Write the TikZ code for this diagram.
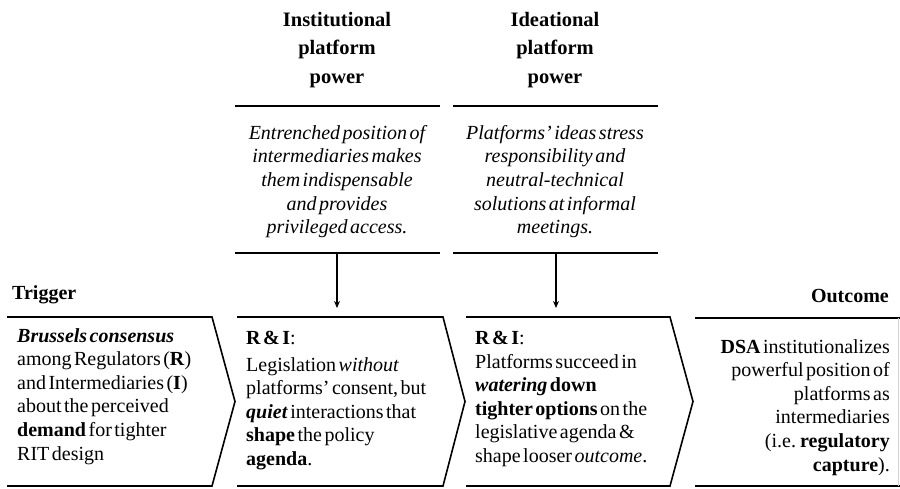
\documentclass[tikz,border=0pt]{standalone}
\usepackage{fontspec}
\setmainfont[WordSpace=0.5]{Liberation Serif}
\usetikzlibrary{arrows.meta}
\begin{document}
\begin{tikzpicture}[x=1pt,y=-1pt,
  rule/.style={line width=1.7pt},
  chev/.style={line width=1.6pt, line join=miter},
  flow/.style={line width=1.4pt,-{Stealth[length=7pt,width=6pt]}},
  head/.style={inner sep=0pt, align=center, font=\fontsize{20.5}{28.5}\selectfont\bfseries},
  desc/.style={inner sep=0pt, align=center, font=\fontsize{20}{23.6}\selectfont\itshape},
  body/.style={inner sep=0pt, font=\fontsize{20}{23.6}\selectfont},
  label/.style={inner sep=0pt, font=\fontsize{20}{24}\selectfont\bfseries}]
\useasboundingbox (0,0) rectangle (900,488);

% column headings
\node[head, anchor=north] (hinst) at (337,12) {Institutional\\platform\\power};
\node[head, anchor=north] (hidea) at (555,12) {Ideational\\platform\\power};

% rules around the mechanism descriptions
\draw[rule] (235,106) -- (440,106);
\draw[rule] (453,106) -- (658,106);
\draw[rule] (235,253) -- (440,253);
\draw[rule] (453,253) -- (658,253);

\node[desc, anchor=north] (dinst) at (337,125)
  {Entrenched position of\\intermediaries makes\\them indispensable\\and provides\\privileged access.};
\node[desc, anchor=north] (didea) at (555,125)
  {Platforms’ ideas stress\\responsibility and\\neutral-technical\\solutions at informal\\meetings.};

% side labels
\node[label, anchor=base west] (trig) at (12,299) {Trigger};
\node[label, anchor=base east] (outc) at (889,302) {Outcome};

% process chevrons
\draw[chev] (7,317) -- (212,317) -- (235,401.5) -- (212,486) -- (7,486);
\draw[chev] (237,317) -- (443,317) -- (465,401.5) -- (443,486) -- (237,486);
\draw[chev] (466,317) -- (670,317) -- (693,401.5) -- (670,486) -- (466,486);
\draw[chev] (695,318) -- (900,318);
\draw[chev] (695,486) -- (900,486);
\draw[gray!35, line width=0.8pt] (898,318) -- (898,486);

% arrows from the power mechanisms into the process
\coordinate (srcinst) at (337,253);
\coordinate (srcidea) at (556,253);
\coordinate (tgtinst) at (337,308);
\coordinate (tgtidea) at (556,308);
\draw[flow] (srcinst) -- (tgtinst);
\draw[flow] (srcidea) -- (tgtidea);

% chevron texts
\node[body, anchor=north west, align=left] (btrig) at (17,328)
  {\textbf{\textit{Brussels consensus}}\\among Regulators (\textbf{R})\\and Intermediaries (\textbf{I})\\about the perceived\\\textbf{demand} for tighter\\RIT design};
\node[body, anchor=north west, align=left] (binst) at (246,331)
  {\textbf{R \& I}:\\[3pt]Legislation \textit{without}\\platforms’ consent, but\\\textbf{\textit{quiet}} interactions that\\\textbf{shape} the policy\\\textbf{agenda}.};
\node[body, anchor=north west, align=left] (bidea) at (475,331)
  {\textbf{R \& I}:\\Platforms succeed in\\\textbf{\textit{watering} down}\\\textbf{tighter options} on the\\legislative agenda \&\\shape looser \textit{outcome}.};
\node[body, anchor=north east, align=right] (boutc) at (890,339)
  {\textbf{DSA} institutionalizes\\powerful position of\\platforms as\\intermediaries\\(i.e. \textbf{regulatory}\\\textbf{capture}).};
\end{tikzpicture}
\end{document}
